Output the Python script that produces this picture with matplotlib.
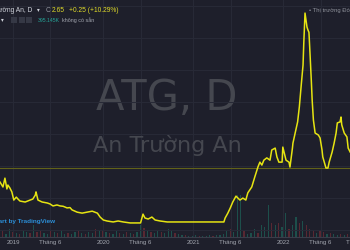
import matplotlib
matplotlib.use("Agg")
import matplotlib.pyplot as plt
import matplotlib.dates as mdates
from matplotlib.patches import Rectangle
import pandas as pd
import numpy as np

# ---------------- data ----------------
price_dates = [
    '2018-11-09', '2018-11-21', '2018-11-29', '2018-12-07', '2018-12-11', '2018-12-19', '2018-12-27', '2019-01-04',
    '2019-01-14', '2019-01-21', '2019-01-29', '2019-02-19', '2019-03-11', '2019-03-22', '2019-04-01', '2019-04-04',
    '2019-04-12', '2019-04-29', '2019-05-20', '2019-05-31', '2019-06-12', '2019-06-28', '2019-07-11', '2019-07-23',
    '2019-08-08', '2019-08-20', '2019-08-28', '2019-09-18', '2019-10-08', '2019-10-28', '2019-11-18', '2019-12-09',
    '2019-12-20', '2020-01-02', '2020-01-17', '2020-02-11', '2020-03-02', '2020-03-23', '2020-04-20', '2020-05-18',
    '2020-06-01', '2020-06-11', '2020-06-19', '2020-07-02', '2020-07-17', '2020-07-30', '2020-08-19', '2020-09-17',
    '2020-10-12', '2021-05-05', '2021-05-10', '2021-05-21', '2021-05-31', '2021-06-10', '2021-06-23', '2021-07-01',
    '2021-07-09', '2021-07-21', '2021-08-02', '2021-08-10', '2021-08-18', '2021-08-26', '2021-09-07', '2021-09-20',
    '2021-09-28', '2021-10-06', '2021-10-14', '2021-10-26', '2021-11-08', '2021-11-15', '2021-11-29', '2021-12-06',
    '2021-12-14', '2021-12-27', '2021-12-30', '2022-01-12', '2022-01-24', '2022-01-28', '2022-02-07', '2022-02-09',
    '2022-02-18', '2022-02-28', '2022-03-07', '2022-03-14', '2022-03-22', '2022-03-25', '2022-03-30', '2022-04-07',
    '2022-04-11', '2022-04-15', '2022-04-20', '2022-04-25', '2022-04-28', '2022-05-03', '2022-05-10', '2022-05-23',
    '2022-05-30', '2022-06-07', '2022-06-10', '2022-06-23', '2022-07-01', '2022-07-06', '2022-07-18', '2022-07-26',
    '2022-08-03', '2022-08-08', '2022-08-19', '2022-08-23', '2022-08-26', '2022-09-05', '2022-09-16', '2022-09-21',
    '2022-09-29',
]
price_close = [
    2.22, 2.07, 2.34, 2.01, 2.13, 2.04, 1.92, 1.67,
    1.76, 1.70, 1.64, 1.61, 1.67, 1.70, 1.82, 1.92,
    1.67, 1.61, 1.58, 1.55, 1.49, 1.52, 1.49, 1.48,
    1.43, 1.44, 1.37, 1.30, 1.27, 1.30, 1.33, 1.27,
    1.15, 1.06, 1.03, 1.00, 1.03, 1.00, 0.97, 0.97,
    0.97, 1.24, 1.12, 1.09, 1.15, 1.06, 1.03, 1.00,
    1.00, 1.00, 1.12, 1.27, 1.43, 1.61, 1.79, 1.73,
    1.67, 1.73, 1.67, 1.89, 1.98, 2.07, 2.37, 2.68,
    2.83, 2.74, 2.89, 2.96, 2.89, 3.20, 3.26, 2.99,
    2.83, 2.83, 3.29, 2.89, 2.83, 2.68, 3.26, 3.41,
    3.72, 4.06, 4.52, 5.13, 5.80, 6.47, 7.39, 6.96,
    6.87, 6.80, 6.04, 5.25, 4.73, 4.12, 3.72, 3.66,
    3.57, 3.20, 2.99, 2.65, 2.65, 2.83, 3.14, 3.41,
    3.72, 4.03, 4.06, 4.21, 3.97, 3.72, 3.60, 3.26,
    3.14,
]
last_close = 2.65

# biweekly volume (million shares), starting 2018-11-05
volume_start = '2018-11-05'
volume = [
    0.4, 0.6, 0.3, 0.8, 0.5, 0.4, 0.3, 0.6, 0.5, 0.4,
    1.2, 0.5, 0.6, 0.4, 0.3, 0.7, 0.5, 0.4, 0.6, 0.3,
    0.4, 0.3, 0.5, 0.6, 0.4, 0.3, 0.5, 0.4, 0.8, 0.6,
    0.7, 0.5, 0.4, 0.3, 0.6, 0.4, 0.3, 0.5, 0.4, 0.3,
    0.5, 1.2, 0.9, 0.6, 0.5, 0.4, 0.6, 0.5, 0.4, 0.8,
    0.6, 0.4, 0.3, 0.2, 0.2, 0.1, 0.1, 0.2, 0.1, 0.1,
    0.1, 0.2, 0.1, 0.2, 0.2, 0.3, 0.6, 0.8, 0.5, 4.2,
    4.2, 0.6, 0.3, 0.4, 0.8, 0.4, 1.2, 1.0, 3.2, 1.4,
    1.2, 1.4, 1.0, 2.4, 0.8, 1.2, 2.0, 1.4, 1.6, 1.2,
    0.8, 0.6, 0.4, 0.7, 0.5, 0.3, 0.4, 0.3, 0.2, 0.3,
    0.2, 0.3,
]
volume_up = [
    1, 0, 1, 1, 0, 1, 0, 1, 1, 0,
    1, 0, 0, 1, 1, 0, 1, 0, 1, 1,
    0, 1, 1, 0, 1, 0, 1, 1, 0, 1,
    0, 1, 0, 1, 1, 0, 1, 0, 1, 0,
    1, 1, 0, 1, 0, 1, 1, 0, 1, 1,
    1, 0, 1, 1, 0, 1, 1, 1, 0, 1,
    1, 1, 0, 1, 1, 1, 1, 0, 1, 1,
    1, 0, 1, 1, 1, 0, 1, 1, 1, 0,
    1, 0, 1, 1, 0, 1, 1, 0, 1, 0,
    0, 0, 1, 0, 0, 1, 0, 1, 1, 0,
    1, 0,
]

tick_dates = ['2019-01-01', '2019-06-01', '2020-01-01', '2020-06-01', '2021-01-01',
              '2021-06-01', '2022-01-01', '2022-06-01', '2022-11-01']
tick_labels = ['2019', 'Tháng 6', '2020', 'Tháng 6', '2021', 'Tháng 6', '2022', 'Tháng 6', 'Tháng 11']

symbol = 'ATG, D'
company = 'An Trường An'
header_name = 'Trường An, D'
header_change = '+0.25 (+10.29%)'
header_volume = '395.145K'

# ---------------- style ----------------
BG = '#1e1f2b'
GRID = '#282a37'
YELLOW = '#e6e412'
W, H = 350, 250

fig = plt.figure(figsize=(W / 100, H / 100), dpi=100, facecolor=BG)
rect = [0, 13 / H, 378 / W, 237 / H]

axv = fig.add_axes(rect)
axv.set_facecolor(BG)
ax = fig.add_axes(rect, sharex=axv)
ax.set_facecolor('none')

x0 = mdates.date2num(pd.Timestamp('2018-11-09'))
x1 = mdates.date2num(pd.Timestamp('2023-01-20'))

# volume
vdates = pd.date_range(volume_start, periods=len(volume), freq='14D')
vcols = ['#1d4f4b' if u else '#58283282' for u in volume_up]
vcols = ['#1d4f4b' if u else '#582832' for u in volume_up]
axv.bar(mdates.date2num(vdates), volume, width=5, color=vcols, linewidth=0)
axv.set_ylim(0, 23.7)
axv.set_yticks([])
axv.set_xlim(x0, x1)
axv.set_xticks(mdates.date2num(pd.to_datetime(tick_dates)))
axv.set_xticklabels(tick_labels, color='#a3a6af', fontsize=4.4, family='Liberation Sans')
axv.tick_params(axis='x', length=0, pad=2.4)
axv.grid(axis='x', color=GRID, lw=0.7)
axv.set_axisbelow(True)
for s in ['top', 'left', 'right']:
    axv.spines[s].set_visible(False)
axv.spines['bottom'].set_color('#3a3d4a')
axv.spines['bottom'].set_linewidth(0.8)

# price
ax.set_ylim(0.54, 7.79)
ax.set_yticks(7.60 - 0.98 * np.arange(8))
ax.grid(axis='y', color=GRID, lw=0.7)
ax.tick_params(left=False, labelleft=False, bottom=False, labelbottom=False)
for s in ax.spines.values():
    s.set_visible(False)

# watermark
ax.text(167 / 378, 1 - 98 / 237, symbol, transform=ax.transAxes, ha='center', va='center',
        fontsize=30, color='#45474f', family='DejaVu Sans', zorder=0)
ax.text(167 / 378, 1 - 145 / 237, company, transform=ax.transAxes, ha='center', va='center',
        fontsize=16, color='#45474f', family='DejaVu Sans', zorder=0)

ax.axhline(last_close, color='#626219', lw=0.8, zorder=1)
ax.plot(mdates.date2num(pd.to_datetime(price_dates)), price_close, color=YELLOW, lw=1.1, zorder=3)

# header texts
def ft(x, y, s, **kw):
    kw.setdefault('family', 'Liberation Sans')
    fig.text(x / W, 1 - y / H, s, va='center', ha='left', **kw)

ft(-8.5, 10, header_name, color='#d1d4dc', fontsize=4.8)
ft(37, 10, '▾', color='#d1d4dc', fontsize=4.0, family='DejaVu Sans')
ft(46, 10, 'C', color='#9598a1', fontsize=4.8)
ft(51.5, 10, f'{last_close:.2f}', color='#e1dc2a', fontsize=4.8)
ft(69, 10, header_change, color='#e1dc2a', fontsize=4.8)
ft(1, 20, '▾', color='#d1d4dc', fontsize=4.0, family='DejaVu Sans')
for bx in [11, 18.5, 26]:
    fig.patches.append(Rectangle((bx / W, 1 - 23 / H), 6 / W, 6 / H, transform=fig.transFigure,
                                 facecolor='#353845', edgecolor='none'))
ft(37.5, 20, header_volume, color='#26a69a', fontsize=3.7)
ft(62, 20, 'không có sẵn', color='#a3a6af', fontsize=3.9)
ft(309, 10, '• Thị trường Đóng cửa', color='#8f929b', fontsize=4.2)
ft(-10, 222, 'Chart by TradingView', color='#2b8fd8', fontsize=4.6, fontweight='bold')

fig.savefig('out.png', dpi=100, facecolor=BG)
